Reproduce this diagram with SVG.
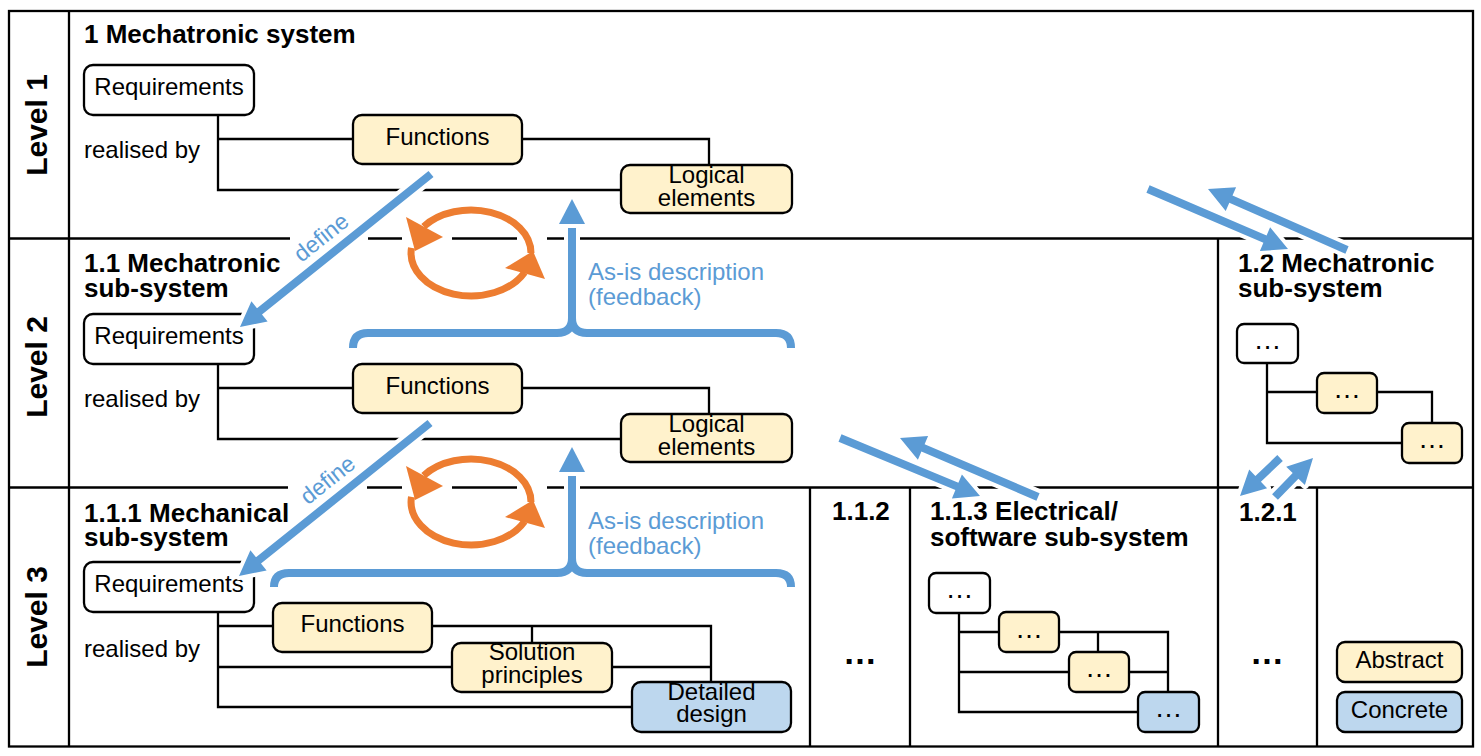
<svg xmlns="http://www.w3.org/2000/svg" width="1481" height="756" viewBox="0 0 1481 756">
<defs><style>
.ln{fill:none;stroke:#000;stroke-width:2.3}
.bx{stroke:#000;stroke-width:2.3}
.wh{fill:#fff}.ye{fill:#FFF2CC}.bl{fill:#BDD7EE}
text{font-family:"Liberation Sans",Arial,Helvetica,sans-serif;fill:#000}
.n{font-size:24px}
.c{font-size:24px;text-anchor:middle}
.h{font-size:26px;font-weight:bold}
.lv{font-size:30px;font-weight:bold;text-anchor:middle}
.dots{font-size:28px;text-anchor:middle}
.bdots{font-size:34px;font-weight:bold;text-anchor:middle}
.bt{font-size:24px;fill:#5B9BD5}
.def{font-size:23px;fill:#5B9BD5;text-anchor:middle;stroke:#fff;stroke-width:5;paint-order:stroke;stroke-linejoin:round}
.arr{fill:#5B9BD5;stroke:#fff;stroke-width:8;paint-order:stroke;stroke-linejoin:round}
.brh{fill:none;stroke:#fff;stroke-width:16}
.br{fill:none;stroke:#5B9BD5;stroke-width:8}
.oa{fill:none;stroke:#ED7D31;stroke-width:7}
.oh{fill:#ED7D31}
</style></defs>
<rect width="1481" height="756" fill="#fff"/>

<g id="frame" class="ln">
<rect x="9" y="11" width="1464" height="735.5"/>
<path d="M69,11 V746.5"/>
<path d="M9,238.5 H290 M368,238.5 H402 M452,238.5 H517 M547,238.5 H1473"/>
<path d="M9,487.5 H288 M367,487.5 H402 M452,487.5 H517 M547,487.5 H1473"/>
<path d="M1218,238.5 V746.5 M810,487.5 V746.5 M910,487.5 V746.5 M1317,487.5 V746.5"/>
</g>

<g id="labels">
<text class="lv" transform="translate(47,125) rotate(-90)">Level 1</text>
<text class="lv" transform="translate(47,367) rotate(-90)">Level 2</text>
<text class="lv" transform="translate(47,617) rotate(-90)">Level 3</text>
<text class="h" x="84" y="43">1 Mechatronic system</text>
<text class="h" x="84" y="272">1.1 Mechatronic</text>
<text class="h" x="84" y="297">sub-system</text>
<text class="h" x="84" y="522">1.1.1 Mechanical</text>
<text class="h" x="84" y="546">sub-system</text>
<text class="h" x="1238" y="272">1.2 Mechatronic</text>
<text class="h" x="1238" y="297">sub-system</text>
<text class="h" x="832" y="520">1.1.2</text>
<text class="h" x="930" y="520">1.1.3 Electrical/</text>
<text class="h" x="930" y="546">software sub-system</text>
<text class="h" x="1239" y="521">1.2.1</text>
<text class="n" x="84" y="158">realised by</text>
<text class="n" x="84" y="407">realised by</text>
<text class="n" x="84" y="657">realised by</text>
<text class="bdots" x="860" y="664">…</text>
<text class="bdots" x="1267" y="664">…</text>
</g>

<g id="connectors" class="ln">
<path d="M218,115 V190 H621 M218,139 H353 M522,139 H709 V165"/>
<path d="M218,364 V439 H621 M218,388 H353 M522,388 H709 V414"/>
<path d="M218,612 V707 H632 M218,626 H273 M218,667 H452 M432,626 H711 V682 M532,626 V643 M612,667 H711"/>
<path d="M1267,363 V443 H1402 M1267,392 H1317 M1377,392 H1432 V423"/>
<path d="M959,613 V712 H1138 M959,632 H999 M1059,632 H1168 V692 M1098,632 V652 M959,672 H1069 M1129,672 H1168"/>
</g>

<g id="n-req1"><rect class="bx wh" x="84" y="65" width="170" height="50" rx="9"/><text class="c" x="169" y="95">Requirements</text></g>
<g id="n-fun1"><rect class="bx ye" x="353" y="115" width="169" height="49" rx="9"/><text class="c" x="437.5" y="145">Functions</text></g>
<g id="n-log1"><rect class="bx ye" x="621" y="165" width="171" height="48" rx="9"/><text class="c" x="706.5" y="183">Logical</text><text class="c" x="706.5" y="206">elements</text></g>

<g id="n-req2"><rect class="bx wh" x="84" y="314" width="170" height="50" rx="9"/><text class="c" x="169" y="344">Requirements</text></g>
<g id="n-fun2"><rect class="bx ye" x="353" y="364" width="169" height="49" rx="9"/><text class="c" x="437.5" y="394">Functions</text></g>
<g id="n-log2"><rect class="bx ye" x="621" y="414" width="171" height="48" rx="9"/><text class="c" x="706.5" y="432">Logical</text><text class="c" x="706.5" y="455">elements</text></g>

<g id="n-req3"><rect class="bx wh" x="84" y="562" width="170" height="50" rx="9"/><text class="c" x="169" y="592">Requirements</text></g>
<g id="n-fun3"><rect class="bx ye" x="273" y="603" width="159" height="49" rx="9"/><text class="c" x="352.5" y="632">Functions</text></g>
<g id="n-sol3"><rect class="bx ye" x="452" y="643" width="160" height="49" rx="9"/><text class="c" x="532" y="660">Solution</text><text class="c" x="532" y="683">principles</text></g>
<g id="n-det3"><rect class="bx bl" x="632" y="682" width="159" height="50" rx="9"/><text class="c" x="711.5" y="700">Detailed</text><text class="c" x="711.5" y="722">design</text></g>

<g id="n-12a"><rect class="bx wh" x="1237" y="324" width="61" height="39" rx="7"/><text class="dots" x="1267.5" y="349">…</text></g>
<g id="n-12b"><rect class="bx ye" x="1317" y="373" width="60" height="40" rx="7"/><text class="dots" x="1347" y="398">…</text></g>
<g id="n-12c"><rect class="bx ye" x="1402" y="423" width="60" height="40" rx="7"/><text class="dots" x="1432" y="448">…</text></g>

<g id="n-113a"><rect class="bx wh" x="929" y="573" width="61" height="40" rx="7"/><text class="dots" x="959.5" y="598">…</text></g>
<g id="n-113b"><rect class="bx ye" x="999" y="612" width="60" height="40" rx="7"/><text class="dots" x="1029" y="638">…</text></g>
<g id="n-113c"><rect class="bx ye" x="1069" y="652" width="60" height="40" rx="7"/><text class="dots" x="1099" y="677">…</text></g>
<g id="n-113d"><rect class="bx bl" x="1138" y="692" width="61" height="40" rx="7"/><text class="dots" x="1168.5" y="717">…</text></g>

<g id="legend-abstract"><rect class="bx ye" x="1337" y="642" width="125" height="40" rx="8"/><text class="c" x="1399.5" y="668">Abstract</text></g>
<g id="legend-concrete"><rect class="bx bl" x="1337" y="692" width="125" height="40" rx="8"/><text class="c" x="1399.5" y="718">Concrete</text></g>

<g id="flow-arrows">
<polygon class="arr" points="428.5,170.9 257.0,308.3 251.4,301.2 240,327 267.6,321.5 262.0,314.5 433.5,177.1"/>
<polygon class="arr" points="427.5,419.9 256.0,557.3 250.4,550.2 239,576 266.6,570.5 261.0,563.5 432.5,426.1"/>
<text class="def" transform="translate(326,243.5) rotate(-38.7)">define</text>
<text class="def" transform="translate(332.5,486) rotate(-38.7)">define</text>
<polygon class="arr" points="1146.4,192.7 1263.4,242.8 1259.9,251.1 1288,249 1270.1,227.2 1266.6,235.5 1149.6,185.3"/>
<polygon class="arr" points="1348.6,246.3 1232.5,195.4 1236.1,187.2 1208,189 1225.7,211.0 1229.3,202.7 1345.4,253.7"/>
<polygon class="arr" points="838.5,441.7 955.4,490.1 951.9,498.4 980,496 961.9,474.4 958.4,482.7 841.5,434.3"/>
<polygon class="arr" points="1039.6,493.3 924.6,444.2 928.1,435.9 900,438 917.9,459.8 921.4,451.5 1036.4,500.7"/>
<polygon class="arr" points="1277.3,455.1 1255.4,475.9 1249.2,469.4 1240,496 1267.1,488.2 1260.9,481.7 1282.8,460.9"/>
<polygon class="arr" points="1277.9,499.8 1298.4,478.7 1304.9,485.0 1313,458 1286.2,466.8 1292.7,473.1 1272.1,494.2"/>
<path class="brh" d="M353,348 Q353,333 368,333 L557,333 Q572,333 572,318 L572,226 M572,318 Q572,333 587,333 L776,333 Q791,333 791,348"/>
<path class="br" d="M353,348 Q353,333 368,333 L557,333 Q572,333 572,318 L572,226 M572,318 Q572,333 587,333 L776,333 Q791,333 791,348"/>
<polygon class="arr" points="559,224 585,224 572,199"/>
<path class="brh" d="M274,587 Q274,573 289,573 L557,573 Q572,573 572,558 L572,474 M572,558 Q572,573 587,573 L776,573 Q791,573 791,587"/>
<path class="br" d="M274,587 Q274,573 289,573 L557,573 Q572,573 572,558 L572,474 M572,558 Q572,573 587,573 L776,573 Q791,573 791,587"/>
<polygon class="arr" points="559,472 585,472 572,447"/>
<text class="bt" x="588" y="280">As-is description</text>
<text class="bt" x="588" y="305">(feedback)</text>
<text class="bt" x="588" y="529">As-is description</text>
<text class="bt" x="588" y="554">(feedback)</text>
<path class="oa" d="M531,253 A60,43 0 0 0 423.7,226.5 M411.5,247.8 A60,43 0 0 0 524.5,272.5"/>
<polygon class="oh" points="406,217 443,237 415,251"/>
<polygon class="oh" points="505,268 545,279 533,251"/>
<path class="oa" d="M531,502 A60,43 0 0 0 423.7,475.5 M411.5,496.8 A60,43 0 0 0 524.5,521.5"/>
<polygon class="oh" points="406,466 443,486 415,500"/>
<polygon class="oh" points="505,517 545,528 533,500"/>
</g>
</svg>
